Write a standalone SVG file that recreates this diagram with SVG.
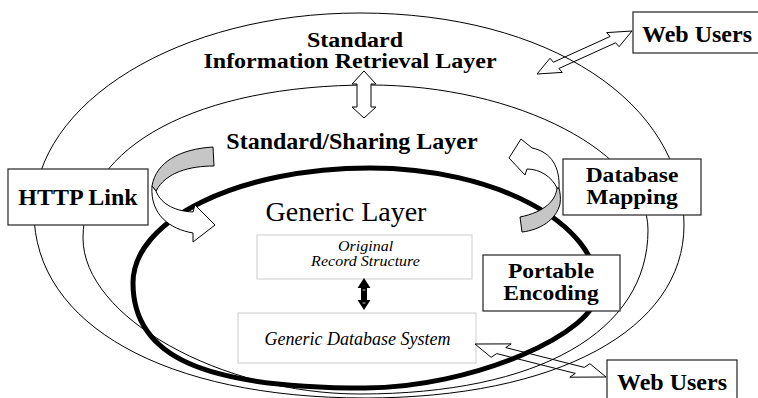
<svg xmlns="http://www.w3.org/2000/svg" width="758" height="398" viewBox="0 0 758 398">
<style>
.thin{fill:none;stroke:#000;stroke-width:1}
.thick{fill:none;stroke:#000;stroke-width:5}
.box{fill:#fff;stroke:#333;stroke-width:1.3}
.lbox{fill:#fff;stroke:#cccccc;stroke-width:1}
.t{font-family:"Liberation Serif","Times New Roman",serif;text-anchor:middle;fill:#000}
.b{font-weight:bold;font-size:24px}
.c{font-weight:bold;font-size:21px}
.d{font-weight:bold;font-size:20px}
.i{font-style:italic}
.hollow{fill:none;stroke:#000;stroke-width:1}
.wfill{fill:#fff;stroke:#000;stroke-width:1}
.gfill{fill:#c6c6c6;stroke:#000;stroke-width:1}
</style>
<rect width="758" height="398" fill="#fff"/>
<g id="layer-information-retrieval">
<path class="thin" d="M34,212 C34,102 180,13 360,13 C548,13 684,102 684,225 C684,330 556,398 365,398 C166,398 34,325 34,212 Z"/>
<text class="t d" transform="translate(355,46.5) scale(1.2,1)">Standard</text>
<text class="t d" transform="translate(350,68) scale(1.2,1)">Information Retrieval Layer</text>
</g>
<g id="layer-sharing">
<path class="thin" d="M83,238 C83,146 198,85 370,85 C517,85 648,153 648,230 C648,332 538,394 360,394 C221,394 83,317 83,238 Z"/>
<text class="t b" x="352" y="149">Standard/Sharing Layer</text>
</g>
<g id="layer-generic">
<path class="thick" d="M133,283 C133,219.5 239,168 370,168 C495,168 598,223 598,290 C598,334 470,388 365,388 C202.6,388 133,356.5 133,283 Z"/>
<text class="t" x="346" y="221" font-size="28">Generic Layer</text>
</g>
<g id="node-original-record">
<rect class="lbox" x="257" y="235" width="215" height="44"/>
<text class="t i" transform="translate(365.5,250.5) scale(1.07,1)" font-size="15">Original</text>
<text class="t i" transform="translate(365.5,266) scale(1.07,1)" font-size="15">Record Structure</text>
</g>
<g id="node-generic-database">
<rect class="lbox" x="238" y="313" width="238" height="50"/>
<text class="t i" x="357.5" y="345" font-size="18">Generic Database System</text>
</g>
<g id="node-http-link">
<rect class="box" x="8" y="169" width="140" height="56"/>
<text class="t b" x="78" y="205">HTTP Link</text>
</g>
<g id="node-web-users-top">
<rect class="box" x="633" y="12" width="126" height="41"/>
<text class="t b" x="697" y="42">Web Users</text>
</g>
<g id="node-database-mapping">
<rect class="box" x="563" y="159" width="138" height="56"/>
<text class="t c" transform="translate(632,182) scale(1.12,1)">Database</text>
<text class="t c" transform="translate(632,204) scale(1.12,1)">Mapping</text>
</g>
<g id="node-portable-encoding">
<rect class="box" x="483" y="255" width="137" height="56"/>
<text class="t c" transform="translate(551,278) scale(1.12,1)">Portable</text>
<text class="t c" transform="translate(551,300) scale(1.12,1)">Encoding</text>
</g>
<g id="node-web-users-bottom">
<rect class="box" x="607" y="360" width="130" height="45"/>
<text class="t b" x="672" y="390">Web Users</text>
</g>
<g id="connectors">
<polygon class="hollow" points="537,74 550,58.3 553.4,62.2 610.1,36.5 606.7,32.6 632,31 619.1,46.7 615.6,42.8 558.9,68.5 562.3,72.4"/>
<polygon class="hollow" points="475,344 511.2,343.9 505.7,347.6 584.3,367.4 589.9,363.7 606,377 569.8,377.2 575.3,373.4 496.7,353.6 491.1,357.3"/>
<polygon class="wfill" points="364,71 376,84 371,84 371,107 376,107 364,118 352,107 357,107 357,84 352,84"/>
<polygon fill="#000" points="364,278 370.5,288 367,288 367,300 370.5,300 364,310 357.5,300 361,300 361,288 357.5,288"/>
<line x1="362.5" y1="290" x2="365.5" y2="290" stroke="#bbb" stroke-width="1"/>
<line x1="362.5" y1="303" x2="365.5" y2="303" stroke="#bbb" stroke-width="1"/>
<path class="gfill" d="M213,147 L214,166 C190,166 166,172 156,191 L152,186 C156,162 180,149 213,147 Z"/>
<path class="wfill" d="M152,186 C150,215 170,229 193,233 L193,242 L215,225 L195,205 L193,212 C172,211 160,202 156,191 Z"/>
<path class="gfill" d="M520,217 L522,232 C540,230 556,220 560,204 C561,198 560,192 559,188 L557,188 C556,200 545,212 520,217 Z"/>
<path class="wfill" d="M559,188 C560,168 552,152 532,148 L521,139 L509,158 L525,175 L527,169 C540,169 552,177 557,188 Z"/>
</g>
</svg>
